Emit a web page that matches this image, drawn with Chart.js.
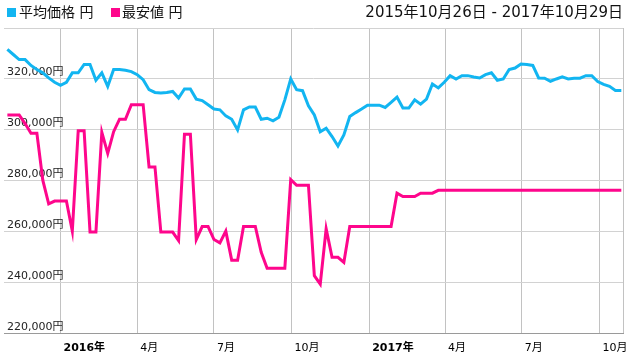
<!DOCTYPE html>
<html>
<head>
<meta charset="utf-8">
<script src="https://cdn.jsdelivr.net/npm/chart.js@4.4.1/dist/chart.umd.min.js"></script>
<style>
  html, body { margin: 0; padding: 0; background: #fff; }
  #wrap {
    position: relative; width: 627px; height: 355px;
    font-family: "DejaVu Sans", "Noto Sans CJK JP", sans-serif; color: #111;
  }
  #wrap span { position: absolute; white-space: nowrap; }
  .box { width: 9px; height: 9px; top: 8px; }
  .lbl { top: 3px; font-size: 14px; line-height: 19px; }
  #range { right: 4px; top: 3px; font-size: 15px; line-height: 19px; }
  #chartBox { position: absolute; left: 0; top: 0; width: 627px; height: 355px; }
</style>
</head>
<body>
<div id="wrap">
  <div id="chartBox"><canvas id="priceChart"></canvas></div>
  <span class="box" style="left:7px;background:#12b5f1"></span>
  <span class="lbl" style="left:19px">平均価格 円</span>
  <span class="box" style="left:111px;background:#fe068c"></span>
  <span class="lbl" style="left:122px">最安値 円</span>
  <span id="range">2015年10月26日 - 2017年10月29日</span>
</div>
<script>
const rangeStart = "2015-10-26";
const rangeEnd = "2017-10-29";

const weekDates = [
  "2015-10-30", "2015-11-06", "2015-11-13", "2015-11-20", "2015-11-27", "2015-12-04", "2015-12-11",
  "2015-12-18", "2015-12-25", "2016-01-01", "2016-01-08", "2016-01-15", "2016-01-22", "2016-01-29",
  "2016-02-05", "2016-02-12", "2016-02-19", "2016-02-26", "2016-03-04", "2016-03-11", "2016-03-18",
  "2016-03-25", "2016-04-01", "2016-04-08", "2016-04-15", "2016-04-22", "2016-04-29", "2016-05-06",
  "2016-05-13", "2016-05-20", "2016-05-27", "2016-06-03", "2016-06-10", "2016-06-17", "2016-06-24",
  "2016-07-01", "2016-07-08", "2016-07-15", "2016-07-22", "2016-07-29", "2016-08-05", "2016-08-12",
  "2016-08-19", "2016-08-26", "2016-09-02", "2016-09-09", "2016-09-16", "2016-09-23", "2016-09-30",
  "2016-10-07", "2016-10-14", "2016-10-21", "2016-10-28", "2016-11-04", "2016-11-11", "2016-11-18",
  "2016-11-25", "2016-12-02", "2016-12-09", "2016-12-16", "2016-12-23", "2016-12-30", "2017-01-06",
  "2017-01-13", "2017-01-20", "2017-01-27", "2017-02-03", "2017-02-10", "2017-02-17", "2017-02-24",
  "2017-03-03", "2017-03-10", "2017-03-17", "2017-03-24", "2017-03-31", "2017-04-07", "2017-04-14",
  "2017-04-21", "2017-04-28", "2017-05-05", "2017-05-12", "2017-05-19", "2017-05-26", "2017-06-02",
  "2017-06-09", "2017-06-16", "2017-06-23", "2017-06-30", "2017-07-07", "2017-07-14", "2017-07-21",
  "2017-07-28", "2017-08-04", "2017-08-11", "2017-08-18", "2017-08-25", "2017-09-01", "2017-09-08",
  "2017-09-15", "2017-09-22", "2017-09-29", "2017-10-06", "2017-10-13", "2017-10-20", "2017-10-27"
];

// 平均価格
const avgPrice = [
  331600, 329600, 327600, 327600, 325300, 323700, 322400, 320400, 318700, 317500,
  318700, 322400, 322400, 325700, 325700, 319500, 322400, 317100, 323700, 323700,
  323400, 322900, 321700, 319700, 315800, 314700, 314500, 314700, 315100, 312500,
  316100, 316100, 312100, 311500, 309900, 308200, 307900, 305500, 304200, 300000,
  307900, 309000, 309000, 304200, 304600, 303600, 305000, 311800, 320000, 315800,
  315400, 309500, 305900, 299300, 300700, 297400, 293700, 298000, 305300, 306800,
  308200, 309700, 309700, 309700, 308800, 310800, 312900, 308600, 308600, 311800,
  310100, 312100, 318000, 316500, 318700, 321300, 320000, 321300, 321300, 320800,
  320400, 321700, 322400, 319500, 320000, 323700, 324300, 325900, 325700, 325300,
  320400, 320300, 319100, 320000, 320800, 320000, 320300, 320300, 321300, 321300,
  319000, 317900, 317100, 315500, 315500
];

// 最安値
const minPrice = [
  305900, 305900, 305900, 302500, 298700, 298700, 280300, 271000, 272100, 272100,
  272100, 260300, 299700, 299700, 259900, 259900, 299100, 290800, 299300, 304200,
  304200, 309900, 309900, 309900, 285500, 285500, 259900, 259900, 259900, 256600,
  298300, 298300, 257000, 262100, 262100, 257000, 255700, 260300, 248900, 248900,
  262100, 262100, 262100, 252000, 245700, 245700, 245700, 245700, 280500, 278300,
  278300, 278300, 242800, 239500, 261200, 250000, 250000, 248000, 262100, 262100,
  262100, 262100, 262100, 262100, 262100, 262100, 275200, 273900, 273900, 273900,
  275200, 275200, 275200, 276300, 276300, 276300, 276300, 276300, 276300, 276300,
  276300, 276300, 276300, 276300, 276300, 276300, 276300, 276300, 276300, 276300,
  276300, 276300, 276300, 276300, 276300, 276300, 276300, 276300, 276300, 276300,
  276300, 276300, 276300, 276300, 276300
];

const xTickDates = ["2016-01-01", "2016-04-01", "2016-07-01", "2016-10-01",
                    "2017-01-01", "2017-04-01", "2017-07-01", "2017-10-01"];
const xTickLabels = ["2016年", "4月", "7月", "10月", "2017年", "4月", "7月", "10月"];
const yTicks = [220000, 240000, 260000, 280000, 300000, 320000, 340000];

const fontFamily = '"DejaVu Sans", "Noto Sans CJK JP", sans-serif';
const dayMs = 86400000;
const dayOf = (d) => (Date.parse(d) - Date.parse(rangeStart)) / dayMs;
const lastDay = dayOf(rangeEnd);

const toPoints = (values) => values.map((v, i) => ({ x: dayOf(weekDates[i]), y: v }));

new Chart(document.getElementById("priceChart").getContext("2d"), {
  type: "line",
  data: {
    datasets: [
      {
        label: "平均価格 円",
        data: toPoints(avgPrice),
        borderColor: "#12b5f1",
        backgroundColor: "#12b5f1",
      },
      {
        label: "最安値 円",
        data: toPoints(minPrice),
        borderColor: "#fe068c",
        backgroundColor: "#fe068c",
      },
    ],
  },
  options: {
    responsive: true,
    maintainAspectRatio: false,
    animation: false,
    // the mirrored y axis still reserves a few pixels, so pull it back
    layout: { padding: { top: 28, left: -2, right: 4, bottom: -2 } },
    elements: {
      point: { radius: 0 },
      line: { borderWidth: 3, tension: 0, fill: false },
    },
    plugins: { legend: { display: false }, tooltip: { enabled: false } },
    scales: {
      x: {
        type: "linear",
        min: 0,
        max: lastDay,
        afterBuildTicks: (axis) => {
          // month ticks plus the right edge of the range
          axis.ticks = xTickDates.map((d) => ({ value: dayOf(d) })).concat([{ value: lastDay }]);
        },
        grid: { color: "#c2c2c2", tickLength: 6, tickColor: "rgba(0,0,0,0)" },
        border: { color: "#9a9a9a", width: 1 },
        ticks: {
          autoSkip: false,
          maxRotation: 0,
          align: "start",
          labelOffset: 3,
          padding: 2,
          color: "#000",
          font: (c) => ({
            family: fontFamily,
            size: 11,
            weight: (xTickLabels[c.index] || "").includes("年") ? "bold" : "normal",
          }),
          callback: (value, index) => xTickLabels[index] || "",
        },
      },
      y: {
        min: yTicks[0],
        max: yTicks[yTicks.length - 1],
        afterBuildTicks: (axis) => {
          axis.ticks = yTicks.map((v) => ({ value: v }));
        },
        grid: { color: "#d2d2d2", drawTicks: false },
        border: { display: false },
        ticks: {
          mirror: true,
          padding: 3,
          labelOffset: -7,
          color: "#222",
          font: { family: fontFamily, size: 11 },
          callback: (v) => (v === yTicks[yTicks.length - 1] ? "" : v.toLocaleString("en-US") + "円"),
        },
      },
    },
  },
});
</script>
</body>
</html>
